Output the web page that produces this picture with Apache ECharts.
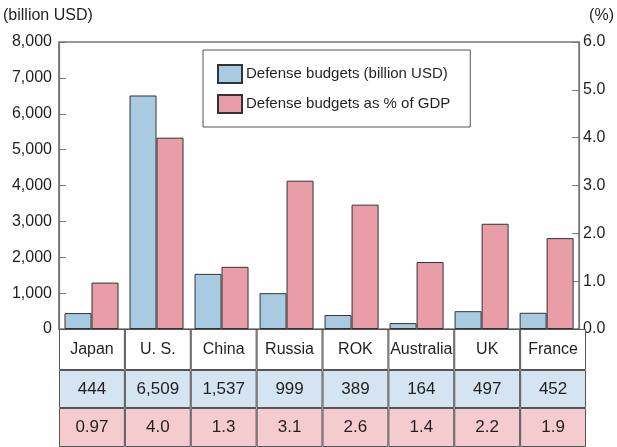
<!DOCTYPE html>
<html>
<head>
<meta charset="utf-8">
<script src="https://cdn.jsdelivr.net/npm/echarts@6/dist/echarts.min.js"></script>
<style>
  html, body { margin: 0; padding: 0; background: #fff; }
  #chart { width: 617px; height: 447px; }
</style>
</head>
<body>
<div id="chart"></div>
<script>
// Defense budgets of selected countries
const countries = ['Japan', 'U. S.', 'China', 'Russia', 'ROK', 'Australia', 'UK', 'France'];
const budgets = [444, 6509, 1537, 999, 389, 164, 497, 452];
const budgetLabels = ['444', '6,509', '1,537', '999', '389', '164', '497', '452'];
const gdpShare = [0.97, 4.0, 1.3, 3.1, 2.6, 1.4, 2.2, 1.9];
const gdpLabels = ['0.97', '4.0', '1.3', '3.1', '2.6', '1.4', '2.2', '1.9'];
const leftTicks = [0, 1000, 2000, 3000, 4000, 5000, 6000, 7000, 8000];
const rightTicks = [0, 1, 2, 3, 4, 5, 6];

const FONT = '"Liberation Sans", Arial, sans-serif';
const TEXT = '#231f20';
const BLUE = '#a9cbe2';
const PINK = '#e99da7';
const BLUE_CELL = '#d4e4f1';
const PINK_CELL = '#f4cbcf';
const LINE = '#555';

const chart = echarts.init(document.getElementById('chart'), null, { renderer: 'canvas' });

const PLOT_LEFT = 59, PLOT_RIGHT = 30;
const ones = countries.map(() => 1);

// one table row = one thin grid whose cells are full-height bars
function tableRow(idx, color, labels, fontSize) {
  return {
    type: 'bar',
    name: 'row' + idx,
    xAxisIndex: idx,
    yAxisIndex: idx + 1,
    data: ones,
    barCategoryGap: 0,
    silent: true,
    itemStyle: { color: color, borderColor: LINE, borderWidth: 1 },
    label: {
      show: true,
      position: 'inside',
      fontFamily: FONT,
      fontSize: fontSize,
      color: TEXT,
      formatter: p => labels[p.dataIndex]
    }
  };
}

const tableX = i => ({
  type: 'category', gridIndex: i, data: countries,
  axisLine: { show: false }, axisTick: { show: false }, axisLabel: { show: false }
});
const tableY = i => ({
  type: 'value', gridIndex: i, min: 0, max: 1,
  axisLine: { show: false }, axisTick: { show: false }, axisLabel: { show: false },
  splitLine: { show: false }
});

chart.setOption({
  animation: false,
  backgroundColor: '#fff',
  textStyle: { fontFamily: FONT, color: TEXT },
  grid: [
    { left: PLOT_LEFT, right: PLOT_RIGHT, top: 42, height: 287, show: true, borderColor: '#333', borderWidth: 1.2, backgroundColor: 'transparent' },
    { left: PLOT_LEFT, right: PLOT_RIGHT + 1, top: 329, height: 41 },
    { left: PLOT_LEFT, right: PLOT_RIGHT + 1, top: 370, height: 38 },
    { left: PLOT_LEFT, right: PLOT_RIGHT + 1, top: 408, height: 40 }
  ],
  legend: {
    data: ['Defense budgets (billion USD)', 'Defense budgets as % of GDP'],
    orient: 'vertical',
    left: 203, top: 50,
    padding: [14, 20, 13, 14],
    itemWidth: 24, itemHeight: 18, itemGap: 10,
    borderColor: LINE, borderWidth: 1,
    backgroundColor: '#fff',
    icon: 'rect',
    textStyle: { fontFamily: FONT, fontSize: 15, color: TEXT, padding: [1, 0, 0, -1] }
  },
  xAxis: [
    {
      type: 'category', gridIndex: 0, data: countries,
      axisLine: { show: true, lineStyle: { color: '#333', width: 1.2 } },
      axisTick: { show: false }, axisLabel: { show: false }
    },
    tableX(1), tableX(2), tableX(3)
  ],
  yAxis: [
    {
      type: 'value', gridIndex: 0, min: 0, max: 8000, interval: 1000,
      name: '(billion USD)', nameLocation: 'end', nameGap: 18,
      nameTextStyle: { fontFamily: FONT, fontSize: 16, color: TEXT, align: 'left', padding: [0, 0, 0, -56] },
      axisLine: { show: true, lineStyle: { color: '#777', width: 1.2 } },
      axisTick: { show: true, inside: true, length: 7, lineStyle: { color: '#777' } },
      axisLabel: {
        fontFamily: FONT, fontSize: 16, color: TEXT, margin: 7,
        formatter: v => leftTicks.includes(v) ? v.toLocaleString('en-US') : ''
      },
      splitLine: { show: false }
    },
    {
      type: 'value', gridIndex: 0, position: 'right', min: 0, max: 6, interval: 1,
      name: '(%)', nameLocation: 'end', nameGap: 18,
      nameTextStyle: { fontFamily: FONT, fontSize: 16, color: TEXT, align: 'left', padding: [0, 0, 0, 10] },
      axisLine: { show: true, lineStyle: { color: '#777', width: 1.2 } },
      axisTick: { show: true, inside: true, length: 7, lineStyle: { color: '#777' } },
      axisLabel: {
        fontFamily: FONT, fontSize: 16, color: TEXT, margin: 4,
        formatter: v => rightTicks.includes(v) ? v.toFixed(1) : ''
      },
      splitLine: { show: false }
    },
    tableY(1), tableY(2), tableY(3)
  ],
  series: [
    {
      type: 'bar', name: 'Defense budgets (billion USD)',
      xAxisIndex: 0, yAxisIndex: 0,
      data: budgets, barWidth: 27, barGap: '0%',
      itemStyle: { color: BLUE, borderColor: '#333', borderWidth: 1 }
    },
    {
      type: 'bar', name: 'Defense budgets as % of GDP',
      xAxisIndex: 0, yAxisIndex: 1,
      data: gdpShare, barWidth: 27, barGap: '0%',
      itemStyle: { color: PINK, borderColor: '#333', borderWidth: 1 }
    },
    tableRow(1, '#fff', countries, 16),
    tableRow(2, BLUE_CELL, budgetLabels, 17),
    tableRow(3, PINK_CELL, gdpLabels, 17)
  ]
});
</script>
</body>
</html>
